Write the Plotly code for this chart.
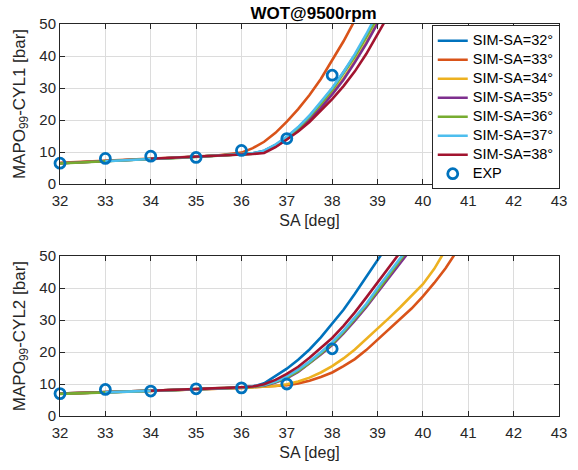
import plotly.graph_objects as go

# ---------------- data ----------------
SA = [32, 32.5, 33, 33.5, 34, 34.5, 35, 35.5, 36, 36.25, 36.5, 36.75, 37, 37.25,
      37.5, 37.75, 38, 38.25, 38.5, 38.75, 39, 39.25, 39.5, 39.75, 40, 40.25, 40.5, 40.75]
N = None
series_names = ["SIM-SA=32°", "SIM-SA=33°", "SIM-SA=34°", "SIM-SA=35°",
                "SIM-SA=36°", "SIM-SA=37°", "SIM-SA=38°"]
colors = ["#0072BD", "#D95319", "#EDB120", "#7E2F8E", "#77AC30", "#4DBEEE", "#A2142F"]

cyl1_sim32 = [6.5,6.9,7.2,7.5,7.8,8.1,8.5,8.9,9.3,9.6,10.4,12.2,14.6,17.6,21.2,25.3,29.8,34.8,40.2,46.2,52.5,N,N,N,N,N,N,N]
cyl1_sim33 = [6.6,6.9,7.2,7.5,7.8,8.2,8.6,9.0,9.8,11.2,13.2,16.0,19.5,23.4,27.8,32.8,38.6,44.6,51.2,N,N,N,N,N,N,N,N,N]
cyl1_sim34 = [6.5,6.9,7.2,7.5,7.8,8.1,8.5,8.9,9.3,9.5,10.0,11.8,14.2,17.0,20.4,24.2,28.4,33.0,38.4,44.2,50.5,N,N,N,N,N,N,N]
cyl1_sim35 = [6.5,6.9,7.2,7.5,7.8,8.1,8.5,8.9,9.3,9.5,10.0,11.7,14.0,16.8,20.0,23.8,28.0,32.6,38.0,43.8,50.2,N,N,N,N,N,N,N]
cyl1_sim36 = [6.4,6.8,7.2,7.5,7.8,8.1,8.5,8.9,9.3,9.5,10.2,12.0,14.4,17.4,21.0,25.0,29.4,34.4,39.8,45.8,52.0,N,N,N,N,N,N,N]
cyl1_sim37 = [N,N,7.1,7.4,7.7,8.1,8.5,8.9,9.3,9.6,10.4,12.3,14.8,17.8,21.4,25.6,30.0,35.0,40.6,46.8,53.5,N,N,N,N,N,N,N]
cyl1_sim38 = [N,N,N,N,7.9,8.2,8.5,8.9,9.2,9.4,9.7,11.5,13.9,16.4,19.4,22.8,26.5,30.6,35.2,40.6,46.8,53.0,N,N,N,N,N,N]

cyl2_sim32 = [7.0,7.2,7.4,7.6,7.9,8.1,8.4,8.6,8.9,9.2,10.2,12.4,14.8,17.6,20.8,24.6,28.8,33.2,38.2,43.4,48.6,54.0,N,N,N,N,N,N]
cyl2_sim33 = [7.0,7.2,7.4,7.6,7.8,8.0,8.3,8.5,8.8,9.0,9.2,9.3,9.6,10.2,11.0,12.2,13.6,15.6,17.8,20.6,23.8,27.0,30.2,33.6,37.4,41.6,46.2,51.6]
cyl2_sim34 = [7.0,7.2,7.4,7.6,7.8,8.0,8.3,8.5,8.8,9.0,9.2,9.4,9.9,10.8,12.0,13.6,15.6,18.0,20.8,24.0,27.4,30.6,34.0,37.6,41.2,46.0,52.0,N]
cyl2_sim35 = [7.0,7.2,7.4,7.6,7.9,8.1,8.4,8.6,8.9,9.1,9.5,10.5,11.8,13.8,16.4,19.2,22.2,25.8,29.8,34.0,38.6,43.2,47.6,52.4,N,N,N,N]
cyl2_sim36 = [6.9,7.1,7.4,7.6,7.9,8.1,8.4,8.6,8.9,9.1,9.6,10.6,12.0,14.0,16.6,19.5,22.5,26.2,30.2,34.5,39.2,43.8,48.6,53.5,N,N,N,N]
cyl2_sim37 = [N,N,7.4,7.6,7.9,8.1,8.4,8.6,8.9,9.2,9.7,10.8,12.4,14.5,17.0,19.9,23.0,26.7,30.8,35.0,40.0,44.6,49.5,54.0,N,N,N,N]
cyl2_sim38 = [N,N,N,N,7.9,8.1,8.4,8.7,9.0,9.2,9.9,11.3,13.2,15.4,18.2,21.2,24.4,28.2,32.4,37.0,41.6,46.4,51.2,N,N,N,N,N]

exp_sa = [32, 33, 34, 35, 36, 37, 38]
exp_cyl1 = [6.5, 8.0, 8.7, 8.3, 10.5, 14.2, 34.0]
exp_cyl2 = [7.0, 8.3, 7.8, 8.5, 8.8, 10.0, 21.0]

x_ticks = list(range(32, 44))
y_ticks = [0, 10, 20, 30, 40, 50]

cyl1 = [cyl1_sim32, cyl1_sim33, cyl1_sim34, cyl1_sim35, cyl1_sim36, cyl1_sim37, cyl1_sim38]
cyl2 = [cyl2_sim32, cyl2_sim33, cyl2_sim34, cyl2_sim35, cyl2_sim36, cyl2_sim37, cyl2_sim38]

# ---------------- figure ----------------
FONT = "Liberation Sans, Arial, Helvetica, sans-serif"
TXT = "#262626"
LEG = "<span style='font-size:14.5px'>%s</span>"
fig = go.Figure()

for name, col, ys in zip(series_names, colors, cyl1):
    fig.add_trace(go.Scatter(x=SA, y=ys, mode="lines", name=LEG % name,
                             line=dict(color=col, width=2.6), xaxis="x", yaxis="y",
                             connectgaps=False))
fig.add_trace(go.Scatter(x=exp_sa, y=exp_cyl1, mode="markers", name=LEG % "EXP",
                         marker=dict(symbol="circle-open", size=10, color="#0072BD",
                                     line=dict(width=2.8, color="#0072BD")),
                         xaxis="x", yaxis="y", cliponaxis=False))

for name, col, ys in zip(series_names, colors, cyl2):
    fig.add_trace(go.Scatter(x=SA, y=ys, mode="lines", name=name, showlegend=False,
                             line=dict(color=col, width=2.6), xaxis="x2", yaxis="y2",
                             connectgaps=False))
fig.add_trace(go.Scatter(x=exp_sa, y=exp_cyl2, mode="markers", name="EXP", showlegend=False,
                         marker=dict(symbol="circle-open", size=10, color="#0072BD",
                                     line=dict(width=2.8, color="#0072BD")),
                         xaxis="x2", yaxis="y2", cliponaxis=False))

def xax(anchor):
    return dict(range=[32, 43], tickvals=x_ticks, showgrid=True, gridcolor="#dcdcdc",
                gridwidth=1, zeroline=False, showline=True, linecolor=TXT, linewidth=1,
                mirror="allticks", ticks="inside", ticklen=5, tickcolor=TXT,
                ticklabelstandoff=3,
                tickfont=dict(size=15, color=TXT, family=FONT), anchor=anchor,
                title=dict(text="SA [deg]", font=dict(size=16, color=TXT, family=FONT),
                           standoff=6))

def yax(anchor, dom, label):
    return dict(range=[0, 50], tickvals=y_ticks, domain=dom, showgrid=True,
                gridcolor="#dcdcdc", gridwidth=1, zeroline=False, showline=True,
                linecolor=TXT, linewidth=1, mirror="allticks", ticks="inside",
                ticklen=5, tickcolor=TXT, tickfont=dict(size=15, color=TXT, family=FONT),
                anchor=anchor,
                title=dict(text=label, font=dict(size=17, color=TXT, family=FONT),
                           standoff=9))

fig.update_layout(
    width=578, height=470,
    margin=dict(l=60, r=11, t=24, b=54),
    paper_bgcolor="white", plot_bgcolor="white",
    font=dict(family=FONT, color=TXT),
    title=dict(text="<b>WOT@9500rpm</b>", x=0.5425, xanchor="center", y=0.972,
               yanchor="middle", font=dict(size=17, color="black", family=FONT)),
    xaxis=xax("y"),
    yaxis=yax("x", [0.5918, 1.0], "MAPO<sub>99</sub>-CYL1 [bar]"),
    xaxis2=xax("y2"),
    yaxis2=yax("x2", [0.0, 0.408], "MAPO<sub>99</sub>-CYL2 [bar]"),
    legend=dict(x=0.745, y=0.997, xanchor="left", yanchor="top",
                bordercolor=TXT, borderwidth=1, bgcolor="white",
                font=dict(size=11.6, color="black", family=FONT),
                tracegroupgap=0, itemwidth=30),
    showlegend=True,
)

fig.write_html("out.html")
